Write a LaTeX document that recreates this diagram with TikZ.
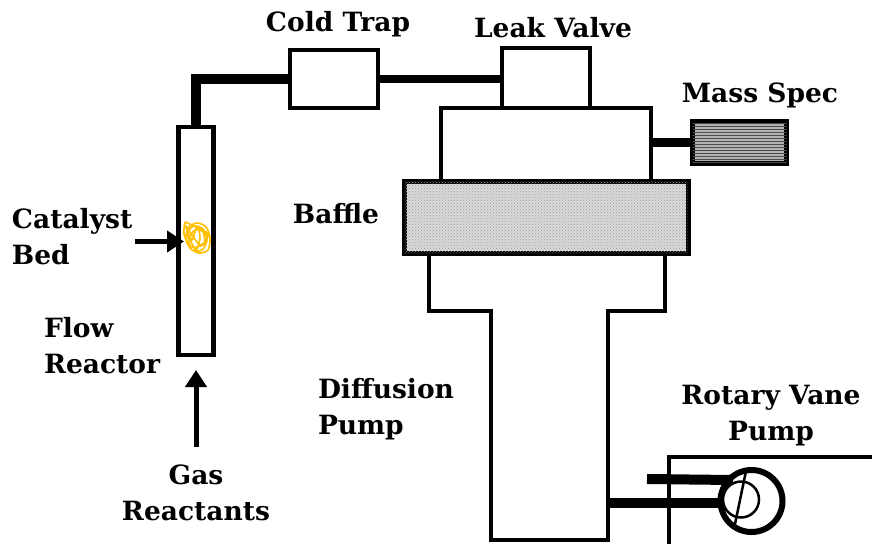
\documentclass[tikz,border=0pt]{standalone}
\usepackage{fontspec}
\setmainfont{DejaVu Serif}
\usepackage{xcolor}
\usetikzlibrary{patterns,arrows.meta}
\definecolor{scribble}{HTML}{FFC000}

\begin{document}
\begin{tikzpicture}[
  x=1pt, y=-1pt,
  every node/.style={font=\bfseries\fontsize{26.5}{36}\selectfont, inner sep=0pt, outer sep=0pt},
  vessel/.style={rectangle, draw, line width=4.6pt, fill=white},
  tag/.style={align=center},
  tagleft/.style={align=left, anchor=west},
  pipe/.style={line width=9pt},
  flow/.style={line width=5pt, -{Triangle[width=21pt,length=17pt]}}
  ]
\useasboundingbox (0,0) rectangle (872,544);

% pump body
\draw[line width=4.6pt, fill=white] (429,253) -- (429,311) -- (491,311) -- (491,540) -- (608,540) -- (608,311) -- (665,311) -- (665,253);
\coordinate (pumpout) at (608,503);

\node[vessel, minimum width=35pt, minimum height=228pt] (reactor) at (196,241) {};
\node[vessel, minimum width=88pt, minimum height=58pt] (trap) at (334,79) {};
\node[vessel, minimum width=88pt, minimum height=60pt] (valve) at (546,78) {};
\node[vessel, minimum width=210pt, minimum height=73pt] (chamber) at (546,144.5) {};
\node[vessel, line width=5pt, minimum width=284pt, minimum height=72pt, fill=gray!30, postaction={pattern=crosshatch dots, pattern color=gray!75}] (baffle) at (546,217) {};
\node[vessel, line width=5pt, minimum width=94pt, minimum height=42pt, fill=gray!60, postaction={pattern=horizontal lines, pattern color=black!70}] (massspec) at (739.5,142.5) {};

% rotary vane pump
\draw[line width=4.6pt] (872,457) -- (669,457) -- (669,544);
\node[circle, draw, line width=6pt, minimum size=62pt, fill=white] (rotor) at (751.5,501) {};
\node[circle, draw, line width=2.5pt, minimum size=36pt] (vane) at (741,499.5) {};
\coordinate (inlet) at (647,479);
\draw[line width=2.5pt] (746,471) -- (735,524);

% pipes
\draw[pipe, line width=10pt] (reactor.north) |- (trap.west);
\draw[pipe, line width=8pt] (trap.east) -- (trap.east -| valve.west);
\draw[pipe] (massspec.west) -- (massspec.west -| chamber.east);
\draw[pipe, line width=10pt] (pumpout) -- (pumpout -| vane.west);
\draw[pipe, line width=10pt] (inlet) -- (733,480);

% catalyst scribble
\draw[scribble, line width=1.6pt, line join=round] plot[smooth] coordinates {(185,222) (184,234) (190,248) (199,253) (208,250) (210,238) (206,227) (197,223) (188,228) (186,240) (192,250) (202,250) (207,240) (203,229) (194,226) (188,233) (191,247) (204,244) (203,232) (195,230) (190,238) (196,250) (200,238) (197,226) (192,240) (186,226) (200,245) (208,234) (192,225) (185,222)};

% arrows
\coordinate (bedtail) at (135,241.5);
\coordinate (bedtip) at (184,241.5);
\coordinate (gastail) at (196,447);
\coordinate (gastip) at (196,370);
\draw[flow] (bedtail) -- (bedtip);
\draw[flow] (gastail) -- (gastip);

% labels
\node[tag] (traplabel) at (338,24.5) {Cold Trap};
\node[tag] (valvelabel) at (553,27.5) {Leak Valve};
\node[tag] (speclabel) at (760,95) {Mass Spec};
\node[tag] (bafflelabel) at (336,214) {Baffle};
\node[tagleft] (bedlabel) at (12,237) {Catalyst\\Bed};
\node[tagleft] (flowlabel) at (44,346) {Flow\\Reactor};
\node[tagleft] (difflabel) at (318,409) {Diffusion\\Pump};
\node[tag] (vanelabel) at (771,415.5) {Rotary Vane\\Pump};
\node[tag] (gaslabel) at (196,492.5) {Gas\\Reactants};

\end{tikzpicture}
\end{document}
